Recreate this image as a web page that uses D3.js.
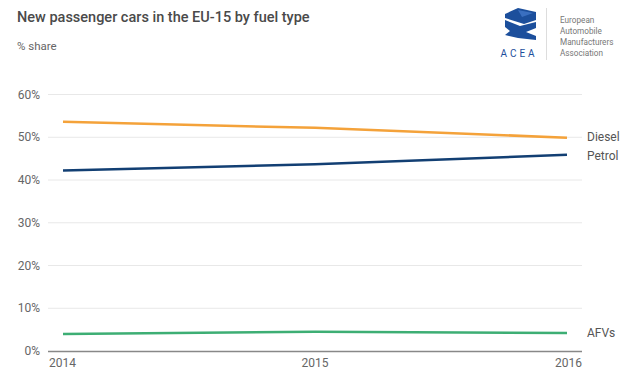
<!DOCTYPE html>
<html><head><meta charset="utf-8">
<script src="https://cdn.jsdelivr.net/npm/d3@7"></script>
<style>
body{margin:0;background:#fff;font-family:Roboto,"Noto Sans",sans-serif;}
svg{display:block}
</style></head><body>
<svg id="c" width="640" height="380"></svg>
<script>
const years = [2014, 2015, 2016];
const seriesNames = ["Diesel", "Petrol", "AFVs"];
const diesel = [53.6, 52.2, 49.9];
const petrol = [42.2, 43.7, 45.9];
const afvs = [4.0, 4.5, 4.2];
const yTicks = [0, 10, 20, 30, 40, 50, 60];
const colors = ["#f4a23a", "#123f73", "#3dae74"];
const title = "New passenger cars in the EU-15 by fuel type";
const subtitle = "% share";
const logoLines = ["European", "Automobile", "Manufacturers", "Association"];

const svg = d3.select("#c");
const gridL = 48, gridR = 582;
const x = d3.scaleLinear().domain([2014, 2016]).range([63, 567]);
const y = d3.scaleLinear().domain([0, 60]).range([351, 94.5]);

svg.append("text").attr("x", 17).attr("y", 22).attr("font-size", 14.5).attr("font-weight", 500)
  .attr("fill", "#4a4a4a").text(title);
svg.append("text").attr("x", 17).attr("y", 50).attr("font-size", 11.5).attr("fill", "#666").text(subtitle);

// logo
const lg = svg.append("g");
const blue = "#1c4f9c";
lg.append("path").attr("d", "M505,14 L518,8 L536,12 L536,20 L524,24 L505,18 Z").attr("fill", blue);
lg.append("path").attr("d", "M505,20 L520,26 L536,22 L536,28 L526,32 L536,36 L536,40 L518,38 L505,35 L510,31 L505,27 Z").attr("fill", blue);
lg.append("path").attr("d", "M518,10 L533,13 L522,17 Z").attr("fill", "#3a6fc0");
lg.append("text").attr("x", 519).attr("y", 57).attr("text-anchor", "middle").attr("font-size", 10)
  .attr("letter-spacing", 3).attr("fill", "#1c4f9c").text("ACEA");
lg.append("line").attr("x1", 546.5).attr("x2", 546.5).attr("y1", 8).attr("y2", 60).attr("stroke", "#ddd");
logoLines.forEach((t, i) => lg.append("text").attr("x", 560).attr("y", 23 + i * 11)
  .attr("font-size", 8.2).attr("fill", "#777").text(t));

// grid
const g = svg.append("g");
yTicks.forEach(t => {
  if (t > 0) g.append("line").attr("x1", gridL).attr("x2", gridR).attr("y1", y(t)).attr("y2", y(t))
    .attr("stroke", "#e8e8e8").attr("stroke-width", 1);
  g.append("text").attr("x", 40).attr("y", y(t)).attr("dy", "0.35em").attr("text-anchor", "end")
    .attr("font-size", 12).attr("fill", "#666").text(t + "%");
});
g.append("line").attr("x1", gridL).attr("x2", gridR).attr("y1", y(0) + 0.5).attr("y2", y(0) + 0.5)
  .attr("stroke", "#888").attr("stroke-width", 1.5);

// x labels
years.forEach((yr, i) => {
  const anchor = i === 0 ? "start" : (i === years.length - 1 ? "end" : "middle");
  const xp = i === 0 ? gridL + 1 : (i === years.length - 1 ? gridR : x(yr));
  g.append("text").attr("x", xp).attr("y", 367).attr("text-anchor", anchor)
    .attr("font-size", 12).attr("fill", "#666").text(yr);
});

// lines
const data = [diesel, petrol, afvs];
const line = d3.line().x((d, i) => x(years[i])).y(d => y(d)).curve(d3.curveMonotoneX);
data.forEach((s, k) => {
  svg.append("path").attr("d", line(s)).attr("fill", "none").attr("stroke", colors[k])
    .attr("stroke-width", 2.5).attr("stroke-linecap", "butt");
});
const labelY = [y(diesel[2]) - 1, y(petrol[2]) + 1, y(afvs[2])];
seriesNames.forEach((n, k) => {
  svg.append("text").attr("x", 587).attr("y", labelY[k]).attr("dy", "0.35em")
    .attr("font-size", 12).attr("fill", "#555").text(n);
});
</script>
</body></html>
